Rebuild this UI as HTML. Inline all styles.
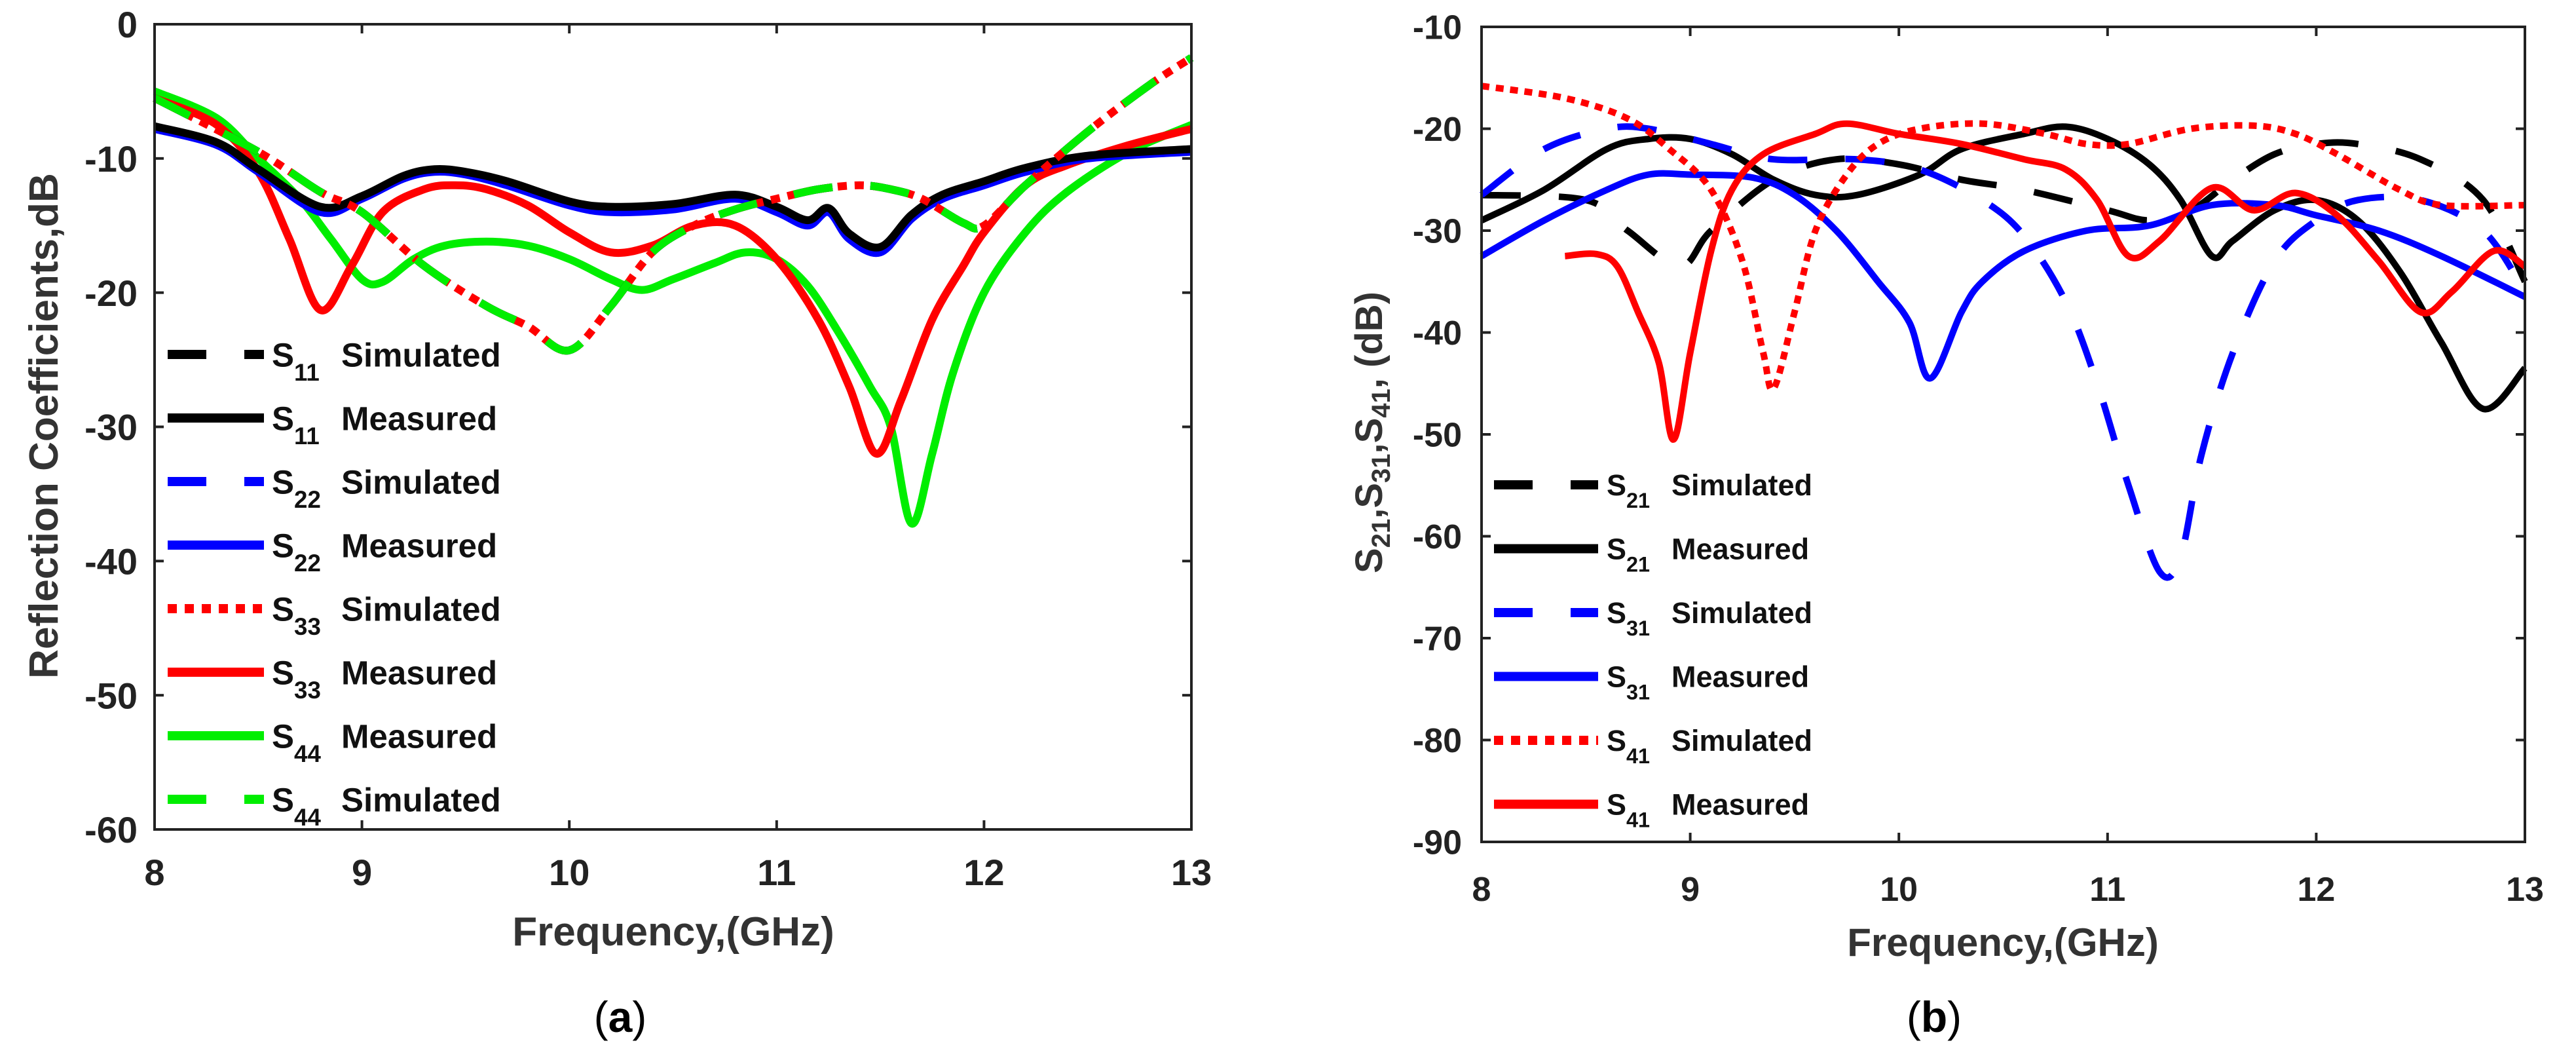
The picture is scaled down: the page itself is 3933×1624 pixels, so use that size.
<!DOCTYPE html>
<html><head><meta charset="utf-8"><style>
html,body{margin:0;padding:0;background:#fff;}
svg text{font-family:"Liberation Sans",Arial,sans-serif;}
</style></head><body>
<svg id="fig" width="3933" height="1619" viewBox="0 0 3933 1619" xmlns="http://www.w3.org/2000/svg">
<rect width="3933" height="1619" fill="#fff"/>
<g id="pa"></g>
<g id="pb"></g>
</svg>
<script>
// ---------- chart (a) data ----------
const xTicksA = [8,9,10,11,12,13];
const yTicksA = [0,-10,-20,-30,-40,-50,-60];
const s11SimF = [8,8.5,8.8,9.0,9.3,9.6,9.8,10.0,10.2,10.4,10.6,10.8,11.0,11.2,11.4,11.55,11.7,11.9,12.0,12.2,12.5,12.8,13];
const s11SimV = [-5.5,-9.5,-12.5,-14,-18,-21,-22.5,-24.3,-21,-17,-15,-13.8,-13,-12.3,-12,-12.3,-13,-14.8,-15,-12,-8,-4.5,-2.5];
const s22MeasF = [8,8.3,8.5,8.8,9.0,9.2,9.35,9.5,9.7,10.0,10.2,10.5,10.8,11.0,11.15,11.25,11.35,11.5,11.65,11.8,12.0,12.2,12.5,13];
const s22MeasV = [-7.8,-9,-11,-14,-13,-11.5,-11,-11.2,-12,-13.5,-14,-13.8,-13,-14,-15,-14,-16,-17,-14.5,-13,-12,-11,-10,-9.5];
const s11MeasV = [-7.6,-8.8,-10.8,-13.6,-12.8,-11.3,-10.8,-11,-11.7,-13.2,-13.6,-13.4,-12.7,-13.6,-14.6,-13.7,-15.6,-16.6,-14.2,-12.7,-11.7,-10.7,-9.8,-9.3];
const s33MeasF = [8,8.3,8.5,8.65,8.8,8.95,9.1,9.3,9.45,9.6,9.8,10.0,10.2,10.4,10.6,10.8,11.0,11.2,11.35,11.48,11.6,11.75,11.9,12.0,12.2,12.4,12.7,13];
const s33MeasV = [-5.5,-7.5,-11,-16,-21.3,-18,-14,-12.3,-12,-12.3,-13.5,-15.5,-17,-16.5,-15,-15,-17.5,-22,-27,-32,-28,-22,-18,-15.5,-12,-10.5,-9,-7.8];
const s44MeasF = [8,8.3,8.5,8.7,8.85,9.0,9.1,9.25,9.4,9.6,9.8,10.0,10.2,10.35,10.5,10.7,10.85,11.0,11.15,11.3,11.45,11.55,11.65,11.75,11.85,12.0,12.2,12.4,12.7,13];
const s44MeasV = [-5,-7,-10,-13,-16,-19,-19.2,-17.5,-16.5,-16.2,-16.5,-17.5,-19,-19.8,-19,-17.8,-17,-17.5,-19.5,-23,-27,-30,-37.2,-32,-26,-20,-15.5,-12.5,-9.5,-7.5];
// ---------- chart (b) data ----------
const xTicksB = [8,9,10,11,12,13];
const yTicksB = [-10,-20,-30,-40,-50,-60,-70,-80,-90];
const s21SimF = [8,8.5,8.7,8.95,9.1,9.4,9.7,10.0,10.3,10.6,11.0,11.2,11.4,11.6,11.8,12.0,12.2,12.5,12.8,13];
const s21SimV = [-26.5,-27,-30,-33.5,-30,-25,-23,-23.5,-25,-26,-28,-29,-28,-25,-22.5,-21.5,-21.5,-23,-27,-35];
const s21MeasF = [8,8.3,8.6,8.8,9.0,9.2,9.4,9.6,9.8,10.1,10.3,10.6,10.8,11.0,11.2,11.35,11.5,11.6,11.8,12.0,12.2,12.4,12.6,12.8,13];
const s21MeasV = [-29,-26,-22,-21,-21,-22.5,-25,-26.5,-26.5,-24.5,-22,-20.5,-19.8,-21,-23.5,-27,-32.5,-31,-28,-27,-29,-34,-41,-47.5,-43.5];
const s31SimF = [8,8.3,8.6,8.8,9.1,9.4,9.8,10.1,10.4,10.6,10.8,10.95,11.1,11.25,11.35,11.45,11.6,11.8,12.0,12.2,12.5,12.8,13];
const s31SimV = [-26.5,-22,-20,-20,-21.5,-23,-23,-24,-27,-30.5,-37,-45,-55,-63.5,-62,-52,-42,-33,-29,-27,-27,-30,-36];
const s31MeasF = [8,8.3,8.6,8.8,9.0,9.3,9.5,9.7,9.9,10.05,10.15,10.3,10.4,10.6,10.9,11.2,11.5,11.8,12.0,12.3,12.6,13];
const s31MeasV = [-32.5,-29,-26,-24.5,-24.5,-24.8,-26.5,-30,-35,-39,-44.5,-38,-35,-32,-30,-29.5,-27.5,-27.5,-28.5,-30,-32.5,-36.5];
const s41SimF = [8,8.4,8.7,8.9,9.1,9.25,9.35,9.4,9.5,9.6,9.75,9.9,10.1,10.4,10.7,10.9,11.1,11.4,11.7,11.9,12.1,12.4,12.6,13];
const s41SimV = [-15.8,-17,-19,-22,-26,-33,-42,-45.5,-38,-30,-24.5,-21.5,-20,-19.5,-20.5,-21.5,-21.5,-20,-19.7,-20.5,-22.5,-26,-27.5,-27.5];
const s41MeasF = [8.4,8.55,8.65,8.75,8.85,8.92,9.0,9.1,9.2,9.35,9.6,9.75,10.0,10.3,10.6,10.8,10.95,11.1,11.25,11.5,11.7,11.9,12.1,12.3,12.5,12.65,12.85,13];
const s41MeasV = [-32.5,-32.3,-33.5,-38,-43,-50.5,-42,-32,-26,-22.5,-20.5,-19.5,-20.5,-21.5,-23,-24,-27,-32.5,-31,-25.8,-28,-26.3,-28.5,-33,-38,-36,-32,-33.5];

const NS='http://www.w3.org/2000/svg';
function mk(tag, attrs, parent){const e=document.createElementNS(NS,tag);for(const k in attrs)e.setAttribute(k,attrs[k]);parent.appendChild(e);return e;}

function smoothPath(pts){
  let d='M'+pts[0][0].toFixed(1)+','+pts[0][1].toFixed(1);
  for(let i=0;i<pts.length-1;i++){
    const p0=pts[Math.max(0,i-1)],p1=pts[i],p2=pts[i+1],p3=pts[Math.min(pts.length-1,i+2)];
    const c1x=p1[0]+(p2[0]-p0[0])/6,c1y=p1[1]+(p2[1]-p0[1])/6;
    const c2x=p2[0]-(p3[0]-p1[0])/6,c2y=p2[1]-(p3[1]-p1[1])/6;
    d+='C'+c1x.toFixed(1)+','+c1y.toFixed(1)+' '+c2x.toFixed(1)+','+c2y.toFixed(1)+' '+p2[0].toFixed(1)+','+p2[1].toFixed(1);
  }
  return d;
}

function drawChart(g, box, xMin, xMax, yMin, yMax, xTicks, yTicks, series, legend, opts){
  const sx = v => box.l + (v-xMin)/(xMax-xMin)*(box.r-box.l);
  const sy = v => box.t + (yMax-v)/(yMax-yMin)*(box.b-box.t);
  series.forEach(s=>{
    const pts=s.f.map((f,i)=>[sx(f),sy(s.v[i])]);
    const p=mk('path',{d:smoothPath(pts),fill:'none',stroke:s.c,'stroke-width':opts.lw,'stroke-linejoin':'round'},g);
    if(s.dash)p.setAttribute('stroke-dasharray',s.dash);
    
    
  });
  const frame=mk('rect',{x:box.l,y:box.t,width:box.r-box.l,height:box.b-box.t,fill:'none',stroke:'#222','stroke-width':4},g);
  
  
  xTicks.forEach(t=>{
    const x=sx(t);
    mk('line',{x1:x,y1:box.b,x2:x,y2:box.b-14,stroke:'#222','stroke-width':4},g);
    mk('line',{x1:x,y1:box.t,x2:x,y2:box.t+14,stroke:'#222','stroke-width':4},g);
    const tx=mk('text',{x:x,y:box.b+opts.xLabOff,'text-anchor':'middle','font-size':opts.tfs,'font-weight':'bold',fill:'#222'},g);
    tx.textContent=t;
    
    
  });
  yTicks.forEach(t=>{
    const y=sy(t);
    mk('line',{x1:box.l,y1:y,x2:box.l+14,y2:y,stroke:'#222','stroke-width':4},g);
    mk('line',{x1:box.r,y1:y,x2:box.r-14,y2:y,stroke:'#222','stroke-width':4},g);
    const tx=mk('text',{x:box.l-opts.yLabOff,y:y+opts.tfs*0.36,'text-anchor':'end','font-size':opts.tfs,'font-weight':'bold',fill:'#222'},g);
    tx.textContent=t;
    
    
  });
  legend.rows.forEach((r,i)=>{
    const y=legend.y0+i*legend.dy;
    const ln=mk('line',{x1:legend.x1,y1:y,x2:legend.x2,y2:y,stroke:r.c,'stroke-width':legend.lw},g);
    if(r.dash)ln.setAttribute('stroke-dasharray',r.dash);
    
    
    const t=mk('text',{x:legend.sx,y:y+legend.fs*0.36,'font-size':legend.fs,'font-weight':'bold',fill:'#111'},g);
    
    
    const a=mk('tspan',{},t);a.textContent='S';
    const b=mk('tspan',{dy:legend.fs*0.42,'font-size':legend.fs*0.72},t);b.textContent=r.sub;
    const c=mk('tspan',{x:legend.tx,dy:-legend.fs*0.42},t);c.textContent=r.label;
  });
}

drawChart(document.getElementById('pa'),{l:236,r:1819,t:37,b:1266},8,13,-60,0,xTicksA,yTicksA,[
  {name:'s44-measured',c:'#00ee00',f:s44MeasF,v:s44MeasV},
  {name:'s33-measured',c:'#ff0000',f:s33MeasF,v:s33MeasV},
  {name:'s22-measured',c:'#0000ff',f:s22MeasF,v:s22MeasV},
  {name:'s11-measured',c:'#000000',f:s22MeasF,v:s11MeasV},
  {name:'s22-simulated',c:'#0000ff',f:s11SimF,v:s11SimV,dash:'60,58'},
  {name:'s11-simulated',c:'#000000',f:s11SimF,v:s11SimV,dash:'60,58'},
  {name:'s33-simulated',c:'#ff0000',f:s11SimF,v:s11SimV,dash:'14,12'},
  {name:'s44-simulated',c:'#00ee00',f:s11SimF,v:s11SimV,dash:'60,58'}
],{x1:256,x2:403,y0:541,dy:97,lw:14,fs:51,sx:415,tx:521,rows:[
  {c:'#000',dash:'59,58',sub:'11',label:'Simulated'},
  {c:'#000',sub:'11',label:'Measured'},
  {c:'#00f',dash:'59,58',sub:'22',label:'Simulated'},
  {c:'#00f',sub:'22',label:'Measured'},
  {c:'#f00',dash:'14,12',sub:'33',label:'Simulated'},
  {c:'#f00',sub:'33',label:'Measured'},
  {c:'#0e0',sub:'44',label:'Measured'},
  {c:'#0e0',dash:'59,58',sub:'44',label:'Simulated'}
]},{lw:12,tfs:56,xLabOff:85,yLabOff:26});

drawChart(document.getElementById('pb'),{l:2262,r:3855,t:41,b:1285},8,13,-90,-10,xTicksB,yTicksB,[
  {name:'s21-simulated',c:'#000000',f:s21SimF,v:s21SimV,dash:'60,58'},
  {name:'s21-measured',c:'#000000',f:s21MeasF,v:s21MeasV},
  {name:'s31-simulated',c:'#0000ff',f:s31SimF,v:s31SimV,dash:'60,58'},
  {name:'s31-measured',c:'#0000ff',f:s31MeasF,v:s31MeasV},
  {name:'s41-simulated',c:'#ff0000',f:s41SimF,v:s41SimV,dash:'12,10'},
  {name:'s41-measured',c:'#ff0000',f:s41MeasF,v:s41MeasV}
],{x1:2281,x2:2440,y0:740,dy:97.5,lw:14,fs:45,sx:2453,tx:2552,rows:[
  {c:'#000',dash:'59,58',sub:'21',label:'Simulated'},
  {c:'#000',sub:'21',label:'Measured'},
  {c:'#00f',dash:'59,58',sub:'31',label:'Simulated'},
  {c:'#00f',sub:'31',label:'Measured'},
  {c:'#f00',dash:'14,12',sub:'41',label:'Simulated'},
  {c:'#f00',sub:'41',label:'Measured'}
]},{lw:10,tfs:52,xLabOff:90,yLabOff:30});
</script>
<svg style="position:absolute;left:0;top:0" width="3933" height="1619" viewBox="0 0 3933 1619" xmlns="http://www.w3.org/2000/svg">
<text x="1028" y="1443" text-anchor="middle" font-size="62" font-weight="bold" fill="#333" font-family="Liberation Sans, sans-serif">Frequency,(GHz)</text>
<text transform="translate(88,650) rotate(-90)" text-anchor="middle" font-size="62" font-weight="bold" fill="#333" font-family="Liberation Sans, sans-serif">Reflection Coefficients,dB</text>
<text x="947" y="1575" text-anchor="middle" font-size="66" fill="#000" font-family="Liberation Serif, serif">(<tspan font-weight="bold">a</tspan>)</text>
<text x="3058" y="1459" text-anchor="middle" font-size="60" font-weight="bold" fill="#333" font-family="Liberation Sans, sans-serif">Frequency,(GHz)</text>
<text transform="translate(2110,660) rotate(-90)" text-anchor="middle" font-size="58" font-weight="bold" fill="#333" font-family="Liberation Sans, sans-serif">S<tspan font-size="40" dy="12">21</tspan><tspan dy="-12">,S</tspan><tspan font-size="40" dy="12">31</tspan><tspan dy="-12">,S</tspan><tspan font-size="40" dy="12">41</tspan><tspan dy="-12">, (dB)</tspan></text>
<text x="2953" y="1575" text-anchor="middle" font-size="66" fill="#000" font-family="Liberation Serif, serif">(<tspan font-weight="bold">b</tspan>)</text>
</svg>
</body></html>
